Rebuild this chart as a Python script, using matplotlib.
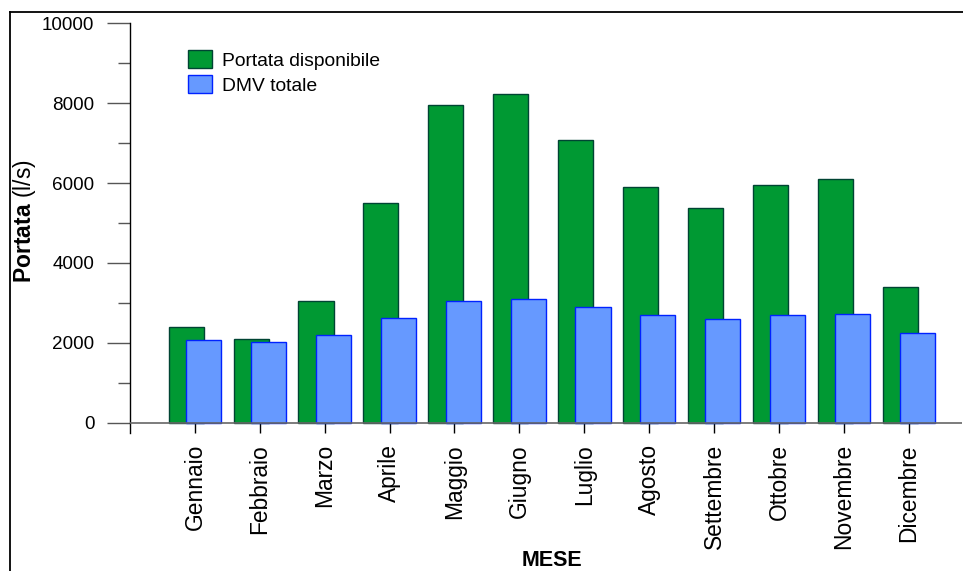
# portata disponibile vs DMV totale, per mese

import matplotlib
matplotlib.use('Agg')
import matplotlib.pyplot as plt
from matplotlib.lines import Line2D
from matplotlib.ticker import MultipleLocator
import numpy as np

plt.rcParams['font.family'] = ['Liberation Sans', 'DejaVu Sans']
plt.rcParams['mathtext.fontset'] = 'custom'
plt.rcParams['mathtext.bf'] = 'Liberation Sans:bold'
plt.rcParams['mathtext.rm'] = 'Liberation Sans'

# data
mesi = ['Gennaio', 'Febbraio', 'Marzo', 'Aprile', 'Maggio', 'Giugno',
        'Luglio', 'Agosto', 'Settembre', 'Ottobre', 'Novembre', 'Dicembre']
portata_disponibile = [2390, 2100, 3050, 5500, 7960, 8230,
                       7080, 5900, 5370, 5940, 6100, 3400]
dmv_totale = [2060, 2010, 2190, 2610, 3050, 3100,
              2900, 2690, 2590, 2700, 2720, 2250]

W, H = 963, 571
fig = plt.figure(figsize=(W / 100, H / 100), dpi=100)
ax = fig.add_axes([130 / W, 1 - 433 / H, (962 - 130) / W, (433 - 23.3) / H])

x = np.arange(1, len(mesi) + 1)
w = 0.54
ax.bar(x - 0.134, portata_disponibile, w, color='#009933', edgecolor='#004433',
       linewidth=1.0, label='Portata disponibile', zorder=2)
ax.bar(x + 0.134, dmv_totale, w, color='#6699ff', edgecolor='#0022ff',
       linewidth=1.0, label='DMV totale', zorder=3)

# zero line
ax.axhline(0, color='#666666', lw=1.2, zorder=4)

ax.set_xlim(0, 12.82)
ax.set_ylim(-258, 10000)

for s in ['top', 'right', 'bottom']:
    ax.spines[s].set_visible(False)
ax.spines['left'].set_color('black')
ax.spines['left'].set_linewidth(1.0)

ax.set_yticks(np.arange(0, 10001, 2000))
ax.set_yticks([v for v in range(1000, 10000, 2000)], minor=True)
ax.tick_params(axis='y', which='major', length=16.6, width=1.0, color='#555555',
               labelsize=13.6, pad=9)
ax.tick_params(axis='y', which='minor', length=8.6, width=1.0, color='#555555')

ax.set_xticks(x)
ax.set_xticklabels(mesi, rotation=90, ha='center', va='top')
ax.tick_params(axis='x', direction='in', length=7.9, width=1.0, color='black',
               labelsize=16.4, pad=8)

fig.text(25 / W, 1 - 221 / H, r'$\bf{Portata}$ (l/s)', rotation=90,
         ha='center', va='center', fontsize=16.5)
fig.text(552 / W, 1 - 561 / H, 'MESE', fontweight='bold', ha='center',
         va='center', fontsize=15.5)

ax.legend(loc='upper left', bbox_to_anchor=(188 / W, 1 - 50 / H),
          bbox_transform=fig.transFigure, frameon=False, fontsize=13.9,
          handlelength=1.24, handleheight=1.09, handletextpad=0.52,
          labelspacing=0.26, borderpad=0, borderaxespad=0)

# outer frame (top and left edges visible)
fig.add_artist(Line2D([10 / W, 10 / W], [0, 1 - 12 / H], transform=fig.transFigure,
                      color='black', lw=1.3))
fig.add_artist(Line2D([10 / W, 1], [1 - 12 / H, 1 - 12 / H], transform=fig.transFigure,
                      color='black', lw=1.3))

fig.savefig('out.png', dpi=100)
